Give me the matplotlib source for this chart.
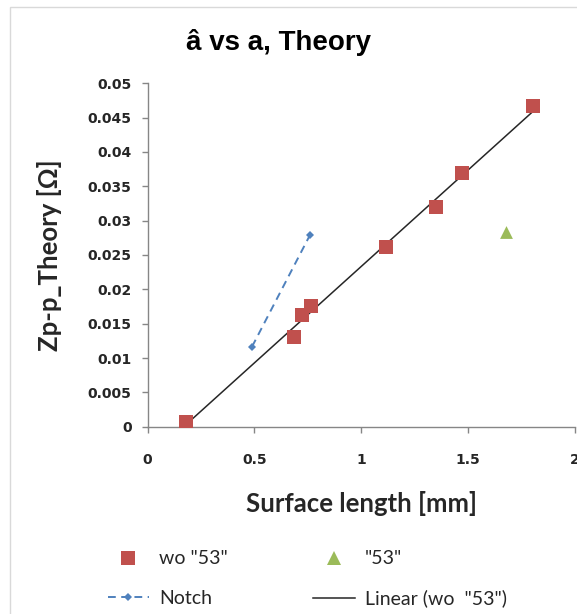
import numpy as np
import matplotlib
matplotlib.use("Agg")
import matplotlib.pyplot as plt
from matplotlib.lines import Line2D
from matplotlib.patches import Rectangle

# Data
wo53_x = [0.18, 0.686, 0.724, 0.765, 1.116, 1.348, 1.473, 1.805]
wo53_y = [0.0007, 0.0131, 0.0163, 0.0176, 0.0261, 0.0320, 0.0369, 0.0467]
s53_x = [1.678]
s53_y = [0.0283]
notch_x = [0.489, 0.760]
notch_y = [0.01165, 0.0279]
x_ticks = [0, 0.5, 1, 1.5, 2]
x_tick_labels = ["0", "0.5", "1", "1.5", "2"]
y_ticks = [0, 0.005, 0.01, 0.015, 0.02, 0.025, 0.03, 0.035, 0.04, 0.045, 0.05]
y_tick_labels = ["0", "0.005", "0.01", "0.015", "0.02", "0.025", "0.03", "0.035", "0.04", "0.045", "0.05"]

RED = "#C0504D"
GREEN = "#9BBB59"
BLUE = "#4F81BD"
GRAY = "#868686"
TXT = "#262626"
FONT = "Lato"

fig = plt.figure(figsize=(5.77, 6.14), dpi=100)
fig.patch.set_facecolor("white")
# chart border
fig.patches.append(Rectangle((10 / 577, -0.01), 1.0, 1 - 7 / 614 + 0.01, transform=fig.transFigure,
                             fill=False, edgecolor="#D9D9D9", linewidth=1.0))

ax = fig.add_axes([147.5 / 577, 1 - 426.7 / 614, (575 - 147.5) / 577, (426.7 - 83.3) / 614])

# linear fit
coef = np.polyfit(wo53_x, wo53_y, 1)
fx = np.array([min(wo53_x), max(wo53_x)])
ax.plot(fx, np.polyval(coef, fx), color="#262626", lw=1.1, zorder=2)

ax.plot(notch_x, notch_y, color=BLUE, lw=1.4, ls=(0, (4, 2.8)), marker="D", ms=4.5,
        markeredgewidth=0, zorder=3)
ax.scatter(wo53_x, wo53_y, marker="s", s=95, color=RED, linewidths=0, zorder=4)
ax.scatter(s53_x, s53_y, marker="^", s=85, color=GREEN, linewidths=0, zorder=4)

ax.set_xlim(0, 2)
ax.set_ylim(0, 0.05)
ax.set_xticks(x_ticks)
ax.set_xticklabels(x_tick_labels)
ax.set_yticks(y_ticks)
ax.set_yticklabels(y_tick_labels)
for sp in ["top", "right"]:
    ax.spines[sp].set_visible(False)
for sp in ["left", "bottom"]:
    ax.spines[sp].set_color(GRAY)
    ax.spines[sp].set_linewidth(1.0)
ax.tick_params(direction="out", length=4.5, width=1.0, color=GRAY, labelcolor=TXT, labelsize=10)
ax.tick_params(axis="x", pad=14.5)
ax.tick_params(axis="y", pad=7)
for lab in ax.get_xticklabels() + ax.get_yticklabels():
    lab.set_fontfamily("DejaVu Sans")
    lab.set_fontweight("bold")

fig.text(278 / 577, 1 - 42 / 614, "â vs a, Theory", ha="center", va="center",
         fontsize=20, fontweight="bold", family="Liberation Sans", color="black")
fig.text(361 / 577, 1 - 503 / 614, "Surface length [mm]", ha="center", va="center",
         fontsize=18.5, fontweight="bold", family=FONT, color=TXT)
fig.text(50 / 577, 1 - 255 / 614, "Zp-p_Theory [Ω]", ha="center", va="center", rotation=90,
         fontsize=18.5, fontweight="bold", family=FONT, color=TXT)

h1 = Line2D([], [], ls="none", marker="s", ms=10, color=RED, markeredgewidth=0)
h2 = Line2D([], [], ls="none", marker="^", ms=9.5, color=GREEN, markeredgewidth=0)
h3 = Line2D([], [], color=BLUE, lw=1.4, ls=(0, (4, 2.8)), marker="D", ms=4.5, markeredgewidth=0)
h4 = Line2D([], [], color="#262626", lw=1.1)
leg = fig.legend([h1, h3, h2, h4], ['wo "53"', 'Notch', '"53"', 'Linear (wo  "53")'],
                 ncol=2, loc="center left", bbox_to_anchor=(90 / 577, 1 - 579 / 614),
                 frameon=False, handlelength=2.15, handletextpad=0.5, columnspacing=4.4,
                 labelspacing=1.15, prop={"family": FONT, "size": 14})
for t in leg.get_texts():
    t.set_color(TXT)

fig.savefig("out.png", dpi=100, facecolor="white")
